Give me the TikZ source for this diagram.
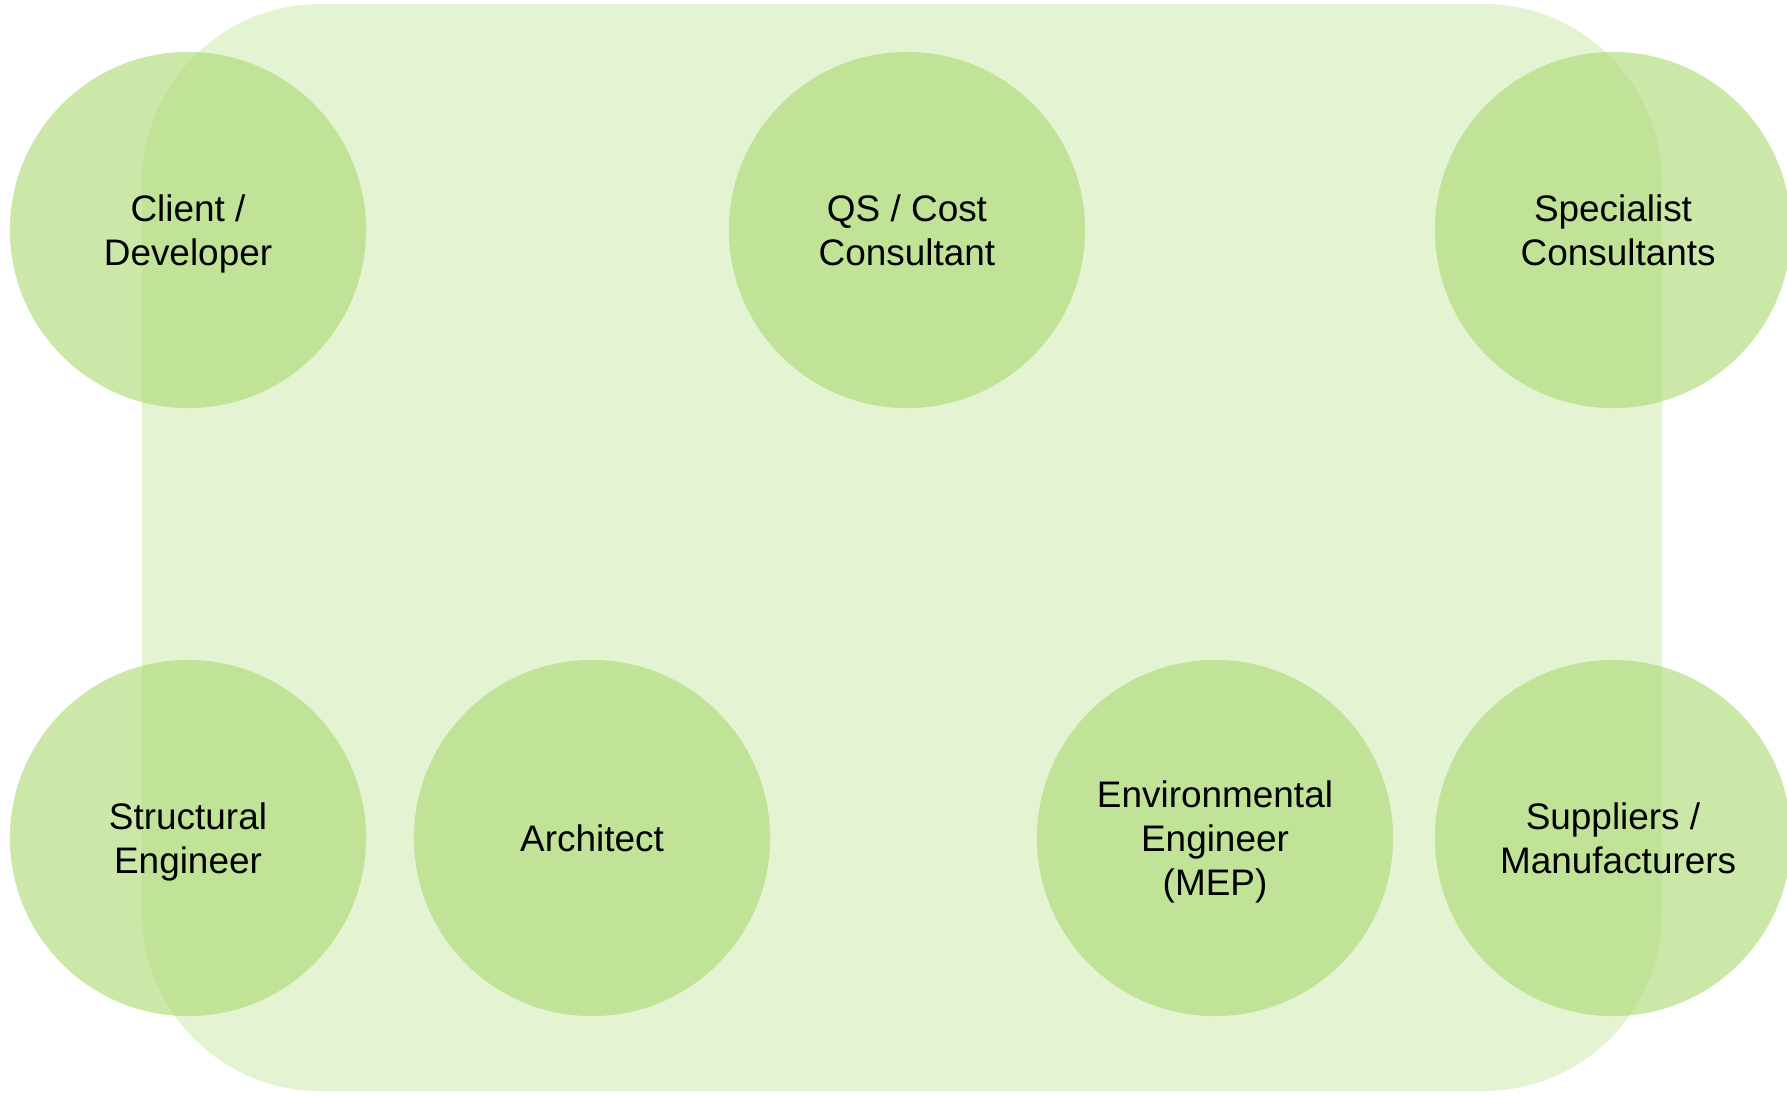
\documentclass[tikz,border=0pt]{standalone}
\usepackage{fontspec}
\setmainfont{Liberation Sans}
\usepackage{tikz}

\definecolor{leaf}{HTML}{A7D76B}

\begin{document}
\begin{tikzpicture}[x=0.01cm, y=-0.01cm,
  party/.style = {circle, fill=leaf, fill opacity=.58, text opacity=1, minimum size=3.56cm, inner sep=0pt, align=center, font=\fontsize{10.5}{12.4}\selectfont, text depth=0pt},
  team/.style = {fill=leaf, fill opacity=.3, rounded corners=1.78cm}]
\useasboundingbox (0,0) rectangle (1787,1096);
\fill[team] (142,4) rectangle (1662,1091);
\node[party] (client) at (188,230) {Client /\\Developer};
\node[party] (qs) at (907,230) {QS / Cost\\Consultant};
\node[party] (specialist) at (1613,230) {Specialist\\\ Consultants};
\node[party] (structural) at (188,838) {Structural\\Engineer};
\node[party] (architect) at (592,838) {Architect};
\node[party] (mep) at (1215,838) {Environmental\\Engineer\\(MEP)};
\node[party] (suppliers) at (1613,838) {Suppliers /\\\ Manufacturers};
\end{tikzpicture}
\end{document}
